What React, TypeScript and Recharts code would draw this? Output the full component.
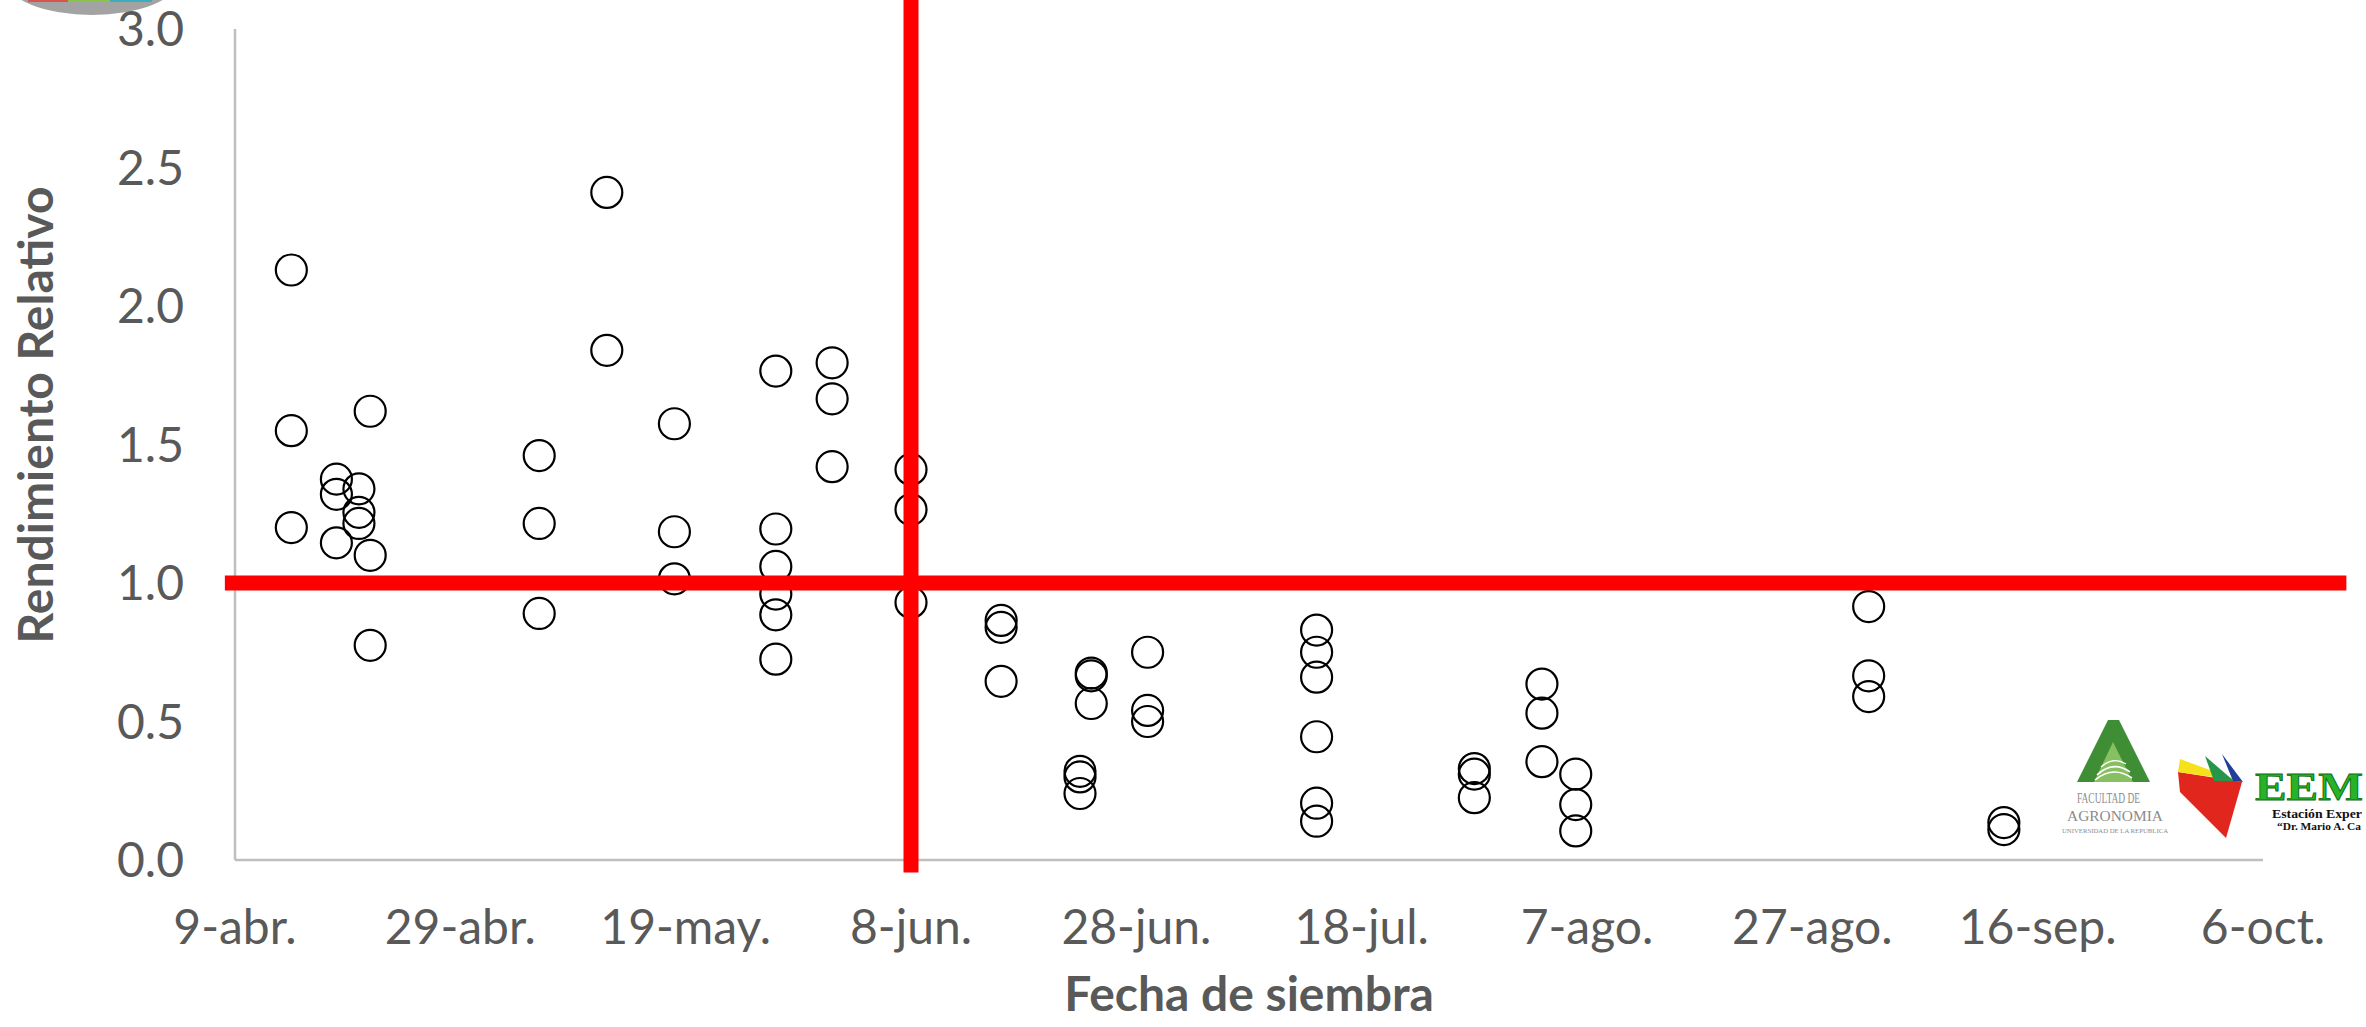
import React from 'react';
import { ScatterChart, Scatter, XAxis, YAxis, ReferenceLine, Customized } from 'recharts';

const W = 2366;
const H = 1027;

// Sowing dates as day of the year (9-abr. = 99)
const FECHAS = [104, 108, 110, 111, 126, 132, 138, 147, 152, 159, 167, 174, 175, 180, 195, 209, 215, 218, 244, 256];

// Relative yield observed for each sowing date
const RENDIMIENTO: number[][] = [
  [2.13, 1.55, 1.2],
  [1.375, 1.32, 1.145],
  [1.34, 1.255, 1.215],
  [1.62, 1.1, 0.775],
  [1.46, 1.215, 0.89],
  [2.41, 1.84],
  [1.575, 1.185, 1.015],
  [1.765, 1.195, 1.06, 0.96, 0.885, 0.725],
  [1.795, 1.665, 1.42],
  [1.41, 1.265, 0.93],
  [0.865, 0.84, 0.645],
  [0.32, 0.3, 0.24],
  [0.675, 0.665, 0.565],
  [0.75, 0.54, 0.5],
  [0.83, 0.75, 0.66, 0.445, 0.205, 0.14],
  [0.33, 0.31, 0.225],
  [0.635, 0.53, 0.355],
  [0.31, 0.2, 0.105],
  [0.915, 0.665, 0.59],
  [0.135, 0.11],
];

const TICK_DIAS = [99, 119, 139, 159, 179, 199, 219, 239, 259, 279];
const TICK_ETIQUETAS = ['9-abr.', '29-abr.', '19-may.', '8-jun.', '28-jun.', '18-jul.', '7-ago.', '27-ago.', '16-sep.', '6-oct.'];
const TICK_RR = [0, 0.5, 1, 1.5, 2, 2.5, 3];

// Thresholds: critical sowing date (8-jun.) and relative yield of 1
const FECHA_CRITICA = 159;
const RR_REFERENCIA = 1;

const data = FECHAS.flatMap((dia, i) => RENDIMIENTO[i].map((rr) => ({ dia, rr })));

const TEXT = '#595959';
const AXIS = '#bfbfbf';
const FONT = 'Lato, "Open Sans", sans-serif';

const Ring = (p: any) =>
  p.cx == null ? null : <circle cx={p.cx} cy={p.cy} r={15.5} fill="none" stroke="#000" strokeWidth={2.2} />;

const Decor = () => (
  <g>
    {/* axis titles */}
    <text x={1249} y={1011} textAnchor="middle" fontFamily={FONT} fontWeight={700} fontSize={48} fill={TEXT}>
      Fecha de siembra
    </text>
    <text
      x={53}
      y={415}
      transform="rotate(-90 53 415)"
      textAnchor="middle"
      fontFamily={FONT}
      fontWeight={700}
      fontSize={48}
      fill={TEXT}
    >
      Rendimiento Relativo
    </text>

    {/* badge at the top-left corner */}
    <ellipse cx={92} cy={-20} rx={86} ry={35} fill="#a3a3a3" />
    <rect x={28} y={0} width={40} height={2} fill="#d9534f" />
    <rect x={68} y={0} width={42} height={2} fill="#8bc34a" />
    <rect x={110} y={0} width={42} height={2} fill="#3aaebf" />

    {/* Facultad de Agronomía */}
    <polygon points="2077,782 2108,720 2119,720 2150,782" fill="#3f8d35" />
    <polygon points="2094,782 2113,742 2133,782" fill="#86c060" />
    <path d="M2097,775 Q2113,760 2130,772" stroke="#fff" strokeWidth={1.6} fill="none" />
    <path d="M2095,780 Q2113,765 2132,778" stroke="#fff" strokeWidth={1.6} fill="none" />
    <path d="M2101,767 Q2113,756 2126,764" stroke="#fff" strokeWidth={1.4} fill="none" />
    <text x={2077} y={803} fontFamily="Liberation Serif" fontSize={14} fill="#8c8c8c" textLength={63} lengthAdjust="spacingAndGlyphs">
      FACULTAD DE
    </text>
    <text x={2067} y={821} fontFamily="Liberation Serif" fontSize={15} fill="#8c8c8c" textLength={96} lengthAdjust="spacingAndGlyphs">
      AGRONOMIA
    </text>
    <text x={2062} y={833} fontFamily="Liberation Serif" fontSize={7} fill="#8c8c8c" textLength={106} lengthAdjust="spacingAndGlyphs">
      UNIVERSIDAD DE LA REPUBLICA
    </text>

    {/* EEMAC (the strip ends at the right edge) */}
    <polygon points="2178,772 2242,782 2226,838 2180,792" fill="#e0261d" />
    <polygon points="2180,759 2240,781 2178,772" fill="#f5e21a" />
    <polygon points="2205,756 2234,781 2214,781" fill="#27954a" />
    <polygon points="2222,754 2243,782 2233,781" fill="#1f3f9a" />
    <text x={2255} y={800} fontFamily="Liberation Serif" fontWeight={700} fontSize={41} fill="#27b327" stroke="#0d6b12" strokeWidth={0.8} textLength={108} lengthAdjust="spacingAndGlyphs">
      EEM
    </text>
    <text x={2272} y={818} fontFamily="Liberation Serif" fontWeight={700} fontSize={13} fill="#111" textLength={90} lengthAdjust="spacingAndGlyphs">
      Estación Exper
    </text>
    <text x={2277} y={830} fontFamily="Liberation Serif" fontWeight={700} fontSize={10} fill="#111" textLength={84} lengthAdjust="spacingAndGlyphs">
      “Dr. Mario A. Ca
    </text>
  </g>
);

export default function App() {
  return (
    <div style={{ position: 'absolute', left: 0, top: 0, width: W, height: H, background: '#fff' }}>
      <ScatterChart width={W} height={H} margin={{ top: 29, right: 103, bottom: 7, left: 0 }}>
        <XAxis
          type="number"
          dataKey="dia"
          domain={[99, 279]}
          ticks={TICK_DIAS}
          interval={0}
          tickFormatter={(v: number) => TICK_ETIQUETAS[TICK_DIAS.indexOf(v)]}
          axisLine={{ stroke: AXIS, strokeWidth: 2.5 }}
          tickLine={false}
          tickSize={0}
          tickMargin={50}
          height={160}
          tick={{ fill: TEXT, fontSize: 48, fontFamily: FONT }}
          allowDataOverflow
        />
        <YAxis
          type="number"
          dataKey="rr"
          domain={[0, 3]}
          ticks={TICK_RR}
          interval={0}
          tickFormatter={(v: number) => v.toFixed(1)}
          axisLine={{ stroke: AXIS, strokeWidth: 2.5 }}
          tickLine={false}
          tickSize={0}
          tickMargin={51}
          width={235}
          tick={{ fill: TEXT, fontSize: 48, fontFamily: FONT }}
          allowDataOverflow
        />
        <Scatter data={data} shape={Ring} isAnimationActive={false} />
        <ReferenceLine
          segment={[{ x: FECHA_CRITICA, y: -0.045 }, { x: FECHA_CRITICA, y: 3.2 }]}
          stroke="#ff0000"
          strokeWidth={15}
          ifOverflow="visible"
          zIndex={700}
        />
        <ReferenceLine
          segment={[{ x: 98.1, y: RR_REFERENCIA }, { x: 286.4, y: RR_REFERENCIA }]}
          stroke="#ff0000"
          strokeWidth={15}
          ifOverflow="visible"
          zIndex={700}
        />
        <Customized component={Decor} />
      </ScatterChart>
    </div>
  );
}
